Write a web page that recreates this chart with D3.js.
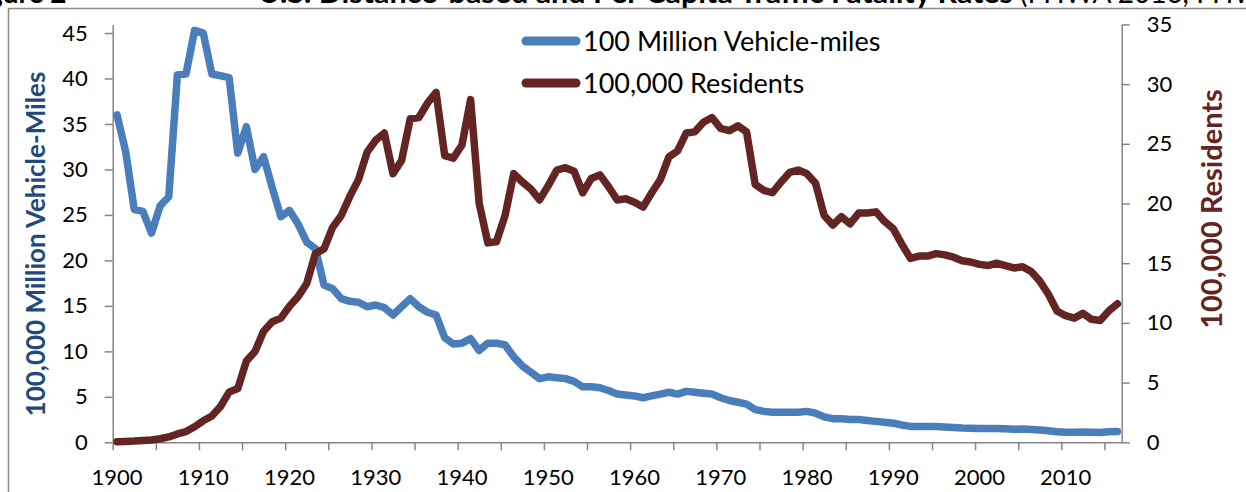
<!DOCTYPE html>
<html>
<head>
  <meta charset="utf-8">
  <title>Traffic Fatality Rates</title>
<style>
body {
  margin: 0;
  background: #fff;
}

svg text {
  font-family: Lato, "Open Sans", sans-serif;
}

.axis path,
.axis line {
  stroke: #868686;
  stroke-width: 1.5px;
  fill: none;
}

.axis text,
text.year-label {
  font-size: 22px;
  fill: #000;
}

text.legend-label {
  font-size: 27px;
  fill: #000;
}

text.axis-title {
  font-weight: bold;
}

path.series {
  fill: none;
  stroke-width: 7.5px;
  stroke-linejoin: round;
  stroke-linecap: round;
}
</style>
</head>
<body>
  <svg id="chart" width="1246" height="492"></svg>
  <script src="https://d3js.org/d3.v7.min.js"></script>
  <script>

// fatalities per 100 million vehicle-miles, 1900..2016
var perVmt = [
  36.0, 32.0, 25.6, 25.4, 23.0, 26.0, 27.0, 40.4, 40.5, 45.3,
  45.0, 40.5, 40.3, 40.1, 31.8, 34.7, 30.0, 31.4, 28.0, 24.8,
  25.5, 24.0, 22.0, 21.3, 17.3, 16.9, 15.8, 15.5, 15.4, 14.9,
  15.1, 14.8, 14.0, 14.9, 15.8, 14.9, 14.3, 14.0, 11.5, 10.8,
  10.9, 11.4, 10.1, 10.9, 10.9, 10.7, 9.4, 8.4, 7.7, 7.0,
  7.2, 7.1, 7.0, 6.7, 6.1, 6.1, 6.0, 5.7, 5.3, 5.2,
  5.1, 4.9, 5.1, 5.3, 5.5, 5.3, 5.6, 5.5, 5.4, 5.3,
  4.9, 4.6, 4.4, 4.2, 3.6, 3.4, 3.3, 3.3, 3.3, 3.3,
  3.4, 3.2, 2.8, 2.6, 2.6, 2.5, 2.5, 2.4, 2.3, 2.2,
  2.1, 1.9, 1.75, 1.75, 1.73, 1.73, 1.69, 1.64, 1.58, 1.55,
  1.53, 1.51, 1.51, 1.48, 1.44, 1.46, 1.42, 1.36, 1.26, 1.15,
  1.11, 1.10, 1.14, 1.10, 1.08, 1.15, 1.18
];

// fatalities per 100,000 residents, 1900..2016
var perPop = [
  0.05, 0.07, 0.1, 0.15, 0.2, 0.3, 0.45, 0.7, 0.9, 1.3,
  1.8, 2.2, 3.0, 4.2, 4.5, 6.8, 7.6, 9.3, 10.1, 10.4,
  11.4, 12.2, 13.3, 15.8, 16.2, 18.0, 19.0, 20.6, 22.0, 24.3,
  25.3, 25.9, 22.5, 23.6, 27.1, 27.2, 28.4, 29.3, 24.0, 23.8,
  24.9, 28.7, 20.0, 16.7, 16.8, 19.0, 22.5, 21.8, 21.2, 20.3,
  21.5, 22.8, 23.0, 22.7, 20.9, 22.1, 22.4, 21.4, 20.3, 20.4,
  20.1, 19.7, 20.9, 22.0, 23.9, 24.4, 25.9, 26.0, 26.8, 27.2,
  26.3, 26.1, 26.5, 26.0, 21.6, 21.1, 20.9, 21.8, 22.6, 22.8,
  22.5, 21.7, 19.0, 18.2, 18.9, 18.3, 19.2, 19.2, 19.3, 18.5,
  17.9, 16.6, 15.4, 15.6, 15.6, 15.8, 15.7, 15.5, 15.2, 15.1,
  14.9, 14.8, 15.0, 14.8, 14.6, 14.7, 14.3, 13.5, 12.4, 11.0,
  10.6, 10.4, 10.8, 10.3, 10.2, 11.0, 11.6
];

var firstYear = 1900;
var years = perVmt.map(function (d, i) { return firstYear + i; });

var yearTicks = [1900, 1905, 1910, 1915, 1920, 1925, 1930, 1935, 1940, 1945, 1950, 1955,
                 1960, 1965, 1970, 1975, 1980, 1985, 1990, 1995, 2000, 2005, 2010, 2015];
var yearLabels = [1900, 1910, 1920, 1930, 1940, 1950, 1960, 1970, 1980, 1990, 2000, 2010];
var leftTicks = [0, 5, 10, 15, 20, 25, 30, 35, 40, 45];
var rightTicks = [0, 5, 10, 15, 20, 25, 30, 35];

var seriesNames = ["100 Million Vehicle-miles", "100,000 Residents"];
var seriesColors = ["#4a7ebb", "#632523"];
var axisTitles = ["100,000 Million Vehicle-Miles", "100,000 Residents"];

var svg = d3.select("svg#chart");

var plot = { left: 112.7, right: 1121.7, top: 24.4, bottom: 442.3 };

// categories sit between the tick marks, so a year's point is at year + 0.5
var x = d3.scaleLinear()
    .domain([firstYear, firstYear + years.length])
    .range([plot.left, plot.right]);

var yLeft = d3.scaleLinear().domain([0, 45.95]).range([plot.bottom, plot.top]);
var yRight = d3.scaleLinear().domain([0, 35]).range([plot.bottom, plot.top]);

// figure caption, cut by the top edge as in the source page
var caption = svg.append("text")
    .attr("x", -35).attr("y", 3)
    .style("font-size", "28px").style("font-weight", "bold");
caption.append("tspan").text("Figure 2");
caption.append("tspan")
    .attr("x", 258)
    .attr("textLength", 755)
    .attr("lengthAdjust", "spacingAndGlyphs")
    .text("U.S. Distance-based and Per Capita Traffic Fatality Rates");
caption.append("tspan")
    .attr("x", 1020)
    .style("font-weight", "normal")
    .text("(FHWA 2016, FHWA 2017)");

svg.append("rect")
    .attr("x", 8.5).attr("y", 8.5)
    .attr("width", 1400).attr("height", 600)
    .style("fill", "none").style("stroke", "#8c8c8c").style("stroke-width", 1.5);

// axes
svg.append("g")
    .attr("class", "axis")
    .attr("transform", "translate(" + plot.left + ",0)")
    .call(d3.axisLeft(yLeft).tickValues(leftTicks).tickSize(8).tickSizeOuter(0).tickPadding(17));

svg.append("g")
    .attr("class", "axis")
    .attr("transform", "translate(" + plot.right + ",0)")
    .call(d3.axisRight(yRight).tickValues(rightTicks).tickSize(8).tickSizeOuter(0).tickPadding(17));

svg.append("g")
    .attr("class", "axis")
    .attr("transform", "translate(0," + plot.bottom + ")")
    .call(d3.axisBottom(x).tickValues(yearTicks).tickSize(8).tickSizeOuter(0).tickFormat(""));

svg.selectAll(".axis text").style("font-family", "Lato, sans-serif").style("font-size", "22px");

svg.append("g").selectAll("text")
    .data(yearLabels)
  .enter().append("text")
    .attr("class", "year-label")
    .attr("x", function (d) { return x(d + 0.5); })
    .attr("y", 485)
    .attr("text-anchor", "middle")
    .text(function (d) { return d; });

// axis titles
svg.append("text")
    .attr("class", "axis-title")
    .attr("transform", "translate(45,244) rotate(-90)")
    .attr("text-anchor", "middle")
    .style("font-size", "26px")
    .style("fill", "#1f4a7e")
    .text(axisTitles[0]);

svg.append("text")
    .attr("class", "axis-title")
    .attr("transform", "translate(1222,209) rotate(-90)")
    .attr("text-anchor", "middle")
    .style("font-size", "29px")
    .style("fill", seriesColors[1])
    .text(axisTitles[1]);

// series
var lineLeft = d3.line()
    .x(function (d, i) { return x(years[i] + 0.5); })
    .y(function (d) { return yLeft(d); });

var lineRight = d3.line()
    .x(function (d, i) { return x(years[i] + 0.5); })
    .y(function (d) { return yRight(d); });

svg.append("path")
    .datum(perVmt)
    .attr("class", "series")
    .style("stroke", seriesColors[0])
    .attr("d", lineLeft);

svg.append("path")
    .datum(perPop)
    .attr("class", "series")
    .style("stroke", seriesColors[1])
    .attr("d", lineRight);

// legend
var legend = svg.append("g").selectAll("g")
    .data(seriesNames)
  .enter().append("g")
    .attr("transform", function (d, i) { return "translate(526," + (41 + i * 42) + ")"; });

legend.append("line")
    .attr("x1", 0).attr("x2", 50)
    .style("stroke", function (d, i) { return seriesColors[i]; })
    .style("stroke-width", 9)
    .style("stroke-linecap", "round");

legend.append("text")
    .attr("class", "legend-label")
    .attr("x", 57)
    .attr("y", 10)
    .text(function (d) { return d; });

  </script>
</body>
</html>
